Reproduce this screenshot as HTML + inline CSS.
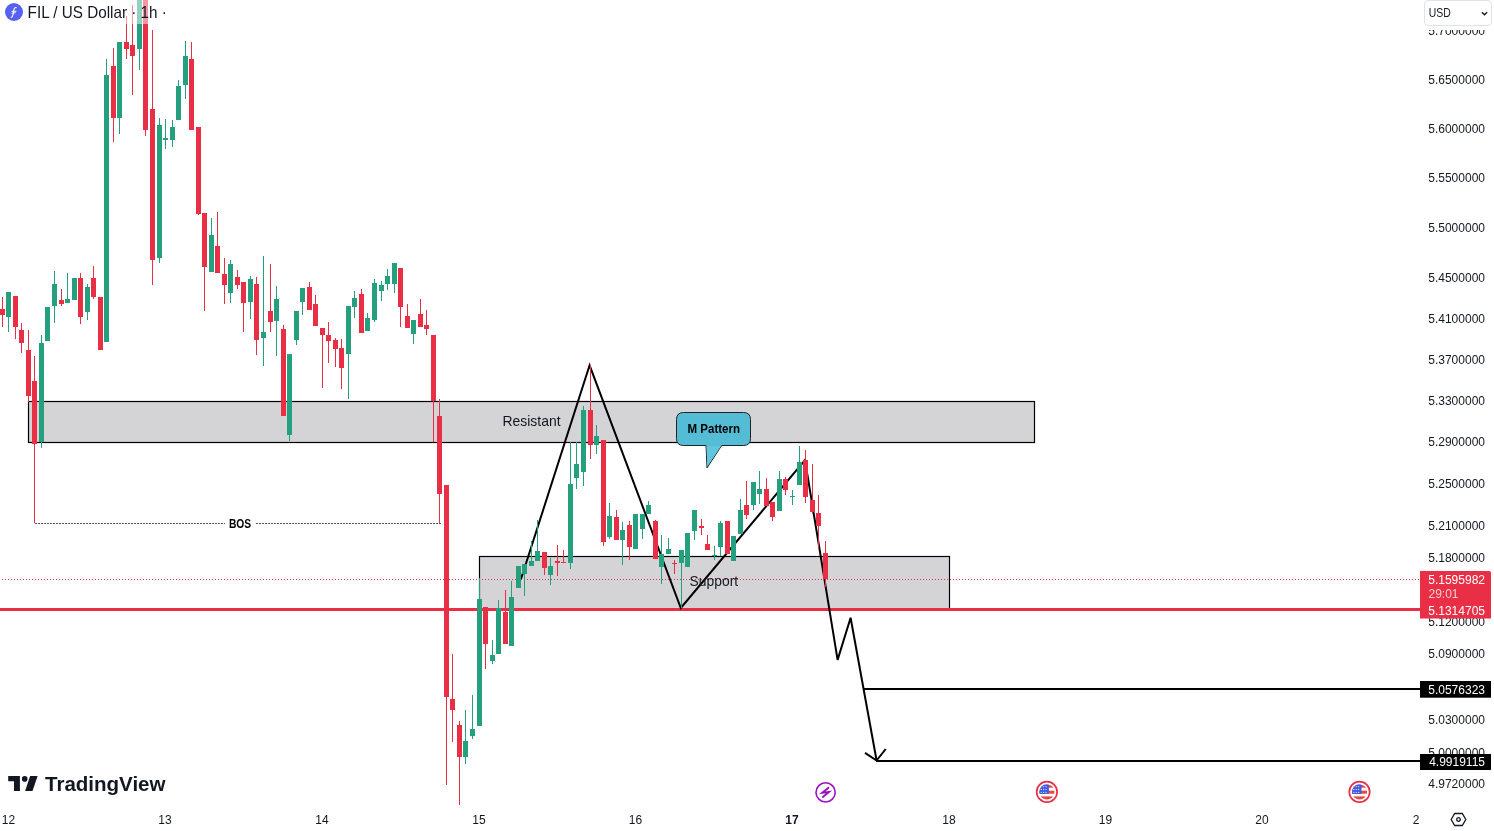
<!DOCTYPE html>
<html><head><meta charset="utf-8"><style>
html,body{margin:0;padding:0;background:#fff;width:1494px;height:831px;overflow:hidden}
svg{display:block;font-family:"Liberation Sans",sans-serif;will-change:transform}
#hdr{position:absolute;left:0;top:0;height:24px;width:172px;background:rgba(255,255,255,0.5)}
#title{position:absolute;left:26.2px;top:2.8px;font:15.5px "Liberation Sans",sans-serif;color:#131722;white-space:nowrap;line-height:20px}
#ico{position:absolute;left:5px;top:3px;width:18px;height:18px;border-radius:50%;background:#5561F2;color:#fff;font:italic 12px "Liberation Serif",serif;text-align:center;line-height:18px}
#usdbg{position:absolute;left:1420px;top:0;width:74px;height:29.5px;background:#fff}
#usd{position:absolute;left:1424px;top:0px;width:67.5px;height:25.5px;box-sizing:border-box;border:1px solid #E0E3EB;border-radius:4px;background:#fff;font:12.5px "Liberation Sans",sans-serif;color:#131722}
#usd span{position:absolute;left:3.5px;top:5px}
</style></head><body>
<svg width="1494" height="831" viewBox="0 0 1494 831">
<rect x="28.5" y="401.5" width="1006" height="41" fill="#D4D4D7" stroke="#000" stroke-width="1.2"/>
<rect x="479.5" y="556.5" width="470" height="53" fill="#D4D4D7" stroke="#000" stroke-width="1.2"/>
<line x1="35" y1="523.5" x2="225" y2="523.5" stroke="#555" stroke-width="1" stroke-dasharray="2 1"/>
<line x1="256" y1="523.5" x2="442" y2="523.5" stroke="#555" stroke-width="1" stroke-dasharray="2 1"/>
<text x="228.9" y="527.8" font-size="12" font-weight="bold" fill="#000" textLength="22.3" lengthAdjust="spacingAndGlyphs">BOS</text>
<line x1="2" y1="579.5" x2="1420" y2="579.5" stroke="#E92F45" stroke-width="1" stroke-dasharray="1 2"/>
<rect x="0" y="608" width="1420" height="3" fill="#E92F45"/>
<rect x="864" y="688" width="556" height="2" fill="#000"/>
<rect x="876" y="760" width="544" height="2" fill="#000"/>
<polyline points="521,579 589.6,365.3 680.8,608 805,460 837.6,659.9 850.6,617.8 876.6,760.5" fill="none" stroke="#000" stroke-width="2" stroke-linejoin="miter"/>
<polyline points="865,752.8 876.6,760.5 885.7,749" fill="none" stroke="#000" stroke-width="2"/>
<text x="502.5" y="426" font-size="14.8" fill="#131722" textLength="58" lengthAdjust="spacingAndGlyphs">Resistant</text>
<text x="689.6" y="586" font-size="14.8" fill="#131722" textLength="48.5" lengthAdjust="spacingAndGlyphs">Support</text>
<path d="M683.5,412.5 H743.5 Q750.5,412.5 750.5,419.5 V438.5 Q750.5,445.5 743.5,445.5 H721.7 L707,467.9 L706,445.5 H683.5 Q676.5,445.5 676.5,438.5 V419.5 Q676.5,412.5 683.5,412.5 Z" fill="#55BCD6" stroke="#222" stroke-width="1"/>
<path d="M706.6,445.9 L707.2,466.4 L721,445.9 Z" fill="#60C6DE"/>
<text x="687.5" y="433" font-size="12" font-weight="bold" fill="#000" textLength="52.5" lengthAdjust="spacingAndGlyphs">M Pattern</text>
<g shape-rendering="crispEdges"><rect x="2" y="297.3" width="1" height="30.1" fill="#E92F45"/><rect x="0" y="309.3" width="5" height="5.6" fill="#E92F45"/><rect x="8" y="292.0" width="1" height="40.0" fill="#24A07E"/><rect x="6" y="292.0" width="5" height="24.6" fill="#24A07E"/><rect x="15" y="296.0" width="1" height="43.4" fill="#E92F45"/><rect x="13" y="296.0" width="5" height="30.7" fill="#E92F45"/><rect x="21" y="323.0" width="1" height="30.4" fill="#E92F45"/><rect x="19" y="329.8" width="5" height="12.7" fill="#E92F45"/><rect x="28" y="330.0" width="1" height="72.0" fill="#E92F45"/><rect x="26" y="350.0" width="5" height="45.5" fill="#E92F45"/><rect x="34" y="356.0" width="1" height="167.0" fill="#E92F45"/><rect x="32" y="381.0" width="5" height="62.6" fill="#E92F45"/><rect x="41" y="335.0" width="1" height="112.7" fill="#24A07E"/><rect x="39" y="343.0" width="5" height="99.0" fill="#24A07E"/><rect x="47" y="307.0" width="1" height="33.6" fill="#24A07E"/><rect x="45" y="307.0" width="5" height="33.6" fill="#24A07E"/><rect x="54" y="270.8" width="1" height="51.8" fill="#24A07E"/><rect x="52" y="284.0" width="5" height="22.4" fill="#24A07E"/><rect x="61" y="288.9" width="1" height="16.8" fill="#E92F45"/><rect x="59" y="300.4" width="5" height="3.4" fill="#E92F45"/><rect x="67" y="273.0" width="1" height="29.6" fill="#24A07E"/><rect x="65" y="299.0" width="5" height="3.6" fill="#24A07E"/><rect x="74" y="278.0" width="1" height="22.4" fill="#24A07E"/><rect x="72" y="278.0" width="5" height="22.4" fill="#24A07E"/><rect x="80" y="273.0" width="1" height="50.8" fill="#E92F45"/><rect x="78" y="278.0" width="5" height="39.3" fill="#E92F45"/><rect x="87" y="284.0" width="1" height="35.7" fill="#24A07E"/><rect x="85" y="287.0" width="5" height="24.7" fill="#24A07E"/><rect x="93" y="266.0" width="1" height="32.5" fill="#E92F45"/><rect x="91" y="278.0" width="5" height="18.8" fill="#E92F45"/><rect x="100" y="297.0" width="1" height="52.6" fill="#E92F45"/><rect x="98" y="297.0" width="5" height="52.6" fill="#E92F45"/><rect x="106" y="59.0" width="1" height="283.3" fill="#24A07E"/><rect x="104" y="75.0" width="5" height="267.3" fill="#24A07E"/><rect x="113" y="48.0" width="1" height="93.5" fill="#E92F45"/><rect x="111" y="66.2" width="5" height="52.2" fill="#E92F45"/><rect x="119" y="42.0" width="1" height="91.6" fill="#24A07E"/><rect x="117" y="42.0" width="5" height="76.4" fill="#24A07E"/><rect x="126" y="16.4" width="1" height="42.1" fill="#E92F45"/><rect x="124" y="42.0" width="5" height="6.6" fill="#E92F45"/><rect x="132" y="4.8" width="1" height="89.8" fill="#E92F45"/><rect x="130" y="45.0" width="5" height="10.8" fill="#E92F45"/><rect x="139" y="0.0" width="1" height="69.8" fill="#24A07E"/><rect x="137" y="0.0" width="5" height="48.6" fill="#24A07E"/><rect x="145" y="0.0" width="1" height="135.5" fill="#E92F45"/><rect x="143" y="0.0" width="5" height="130.0" fill="#E92F45"/><rect x="152" y="30.0" width="1" height="254.6" fill="#E92F45"/><rect x="150" y="109.0" width="5" height="150.8" fill="#E92F45"/><rect x="159" y="118.0" width="1" height="144.7" fill="#24A07E"/><rect x="157" y="124.7" width="5" height="133.2" fill="#24A07E"/><rect x="165" y="119.0" width="1" height="30.0" fill="#24A07E"/><rect x="163" y="138.0" width="5" height="1.6" fill="#24A07E"/><rect x="172" y="120.0" width="1" height="27.0" fill="#24A07E"/><rect x="170" y="127.0" width="5" height="12.6" fill="#24A07E"/><rect x="178" y="80.0" width="1" height="39.6" fill="#24A07E"/><rect x="176" y="86.0" width="5" height="33.6" fill="#24A07E"/><rect x="185" y="41.0" width="1" height="57.7" fill="#24A07E"/><rect x="183" y="56.0" width="5" height="28.7" fill="#24A07E"/><rect x="191" y="42.0" width="1" height="87.5" fill="#E92F45"/><rect x="189" y="59.3" width="5" height="70.2" fill="#E92F45"/><rect x="198" y="127.0" width="1" height="88.0" fill="#E92F45"/><rect x="196" y="127.0" width="5" height="86.8" fill="#E92F45"/><rect x="204" y="213.2" width="1" height="98.2" fill="#E92F45"/><rect x="202" y="213.2" width="5" height="54.2" fill="#E92F45"/><rect x="211" y="218.0" width="1" height="53.5" fill="#24A07E"/><rect x="209" y="235.4" width="5" height="36.1" fill="#24A07E"/><rect x="217" y="212.0" width="1" height="61.4" fill="#E92F45"/><rect x="215" y="246.2" width="5" height="27.2" fill="#E92F45"/><rect x="224" y="257.8" width="1" height="45.7" fill="#E92F45"/><rect x="222" y="274.0" width="5" height="11.4" fill="#E92F45"/><rect x="230" y="260.0" width="1" height="42.8" fill="#24A07E"/><rect x="228" y="263.8" width="5" height="28.9" fill="#24A07E"/><rect x="237" y="269.8" width="1" height="18.8" fill="#E92F45"/><rect x="235" y="277.0" width="5" height="8.4" fill="#E92F45"/><rect x="243" y="282.3" width="1" height="50.1" fill="#E92F45"/><rect x="241" y="282.3" width="5" height="20.5" fill="#E92F45"/><rect x="250" y="275.8" width="1" height="42.9" fill="#24A07E"/><rect x="248" y="279.0" width="5" height="22.6" fill="#24A07E"/><rect x="256" y="277.0" width="1" height="77.5" fill="#E92F45"/><rect x="254" y="283.8" width="5" height="55.8" fill="#E92F45"/><rect x="263" y="256.0" width="1" height="109.6" fill="#24A07E"/><rect x="261" y="332.0" width="5" height="5.7" fill="#24A07E"/><rect x="270" y="263.8" width="1" height="68.6" fill="#E92F45"/><rect x="268" y="311.2" width="5" height="10.3" fill="#E92F45"/><rect x="276" y="286.0" width="1" height="69.7" fill="#24A07E"/><rect x="274" y="298.7" width="5" height="22.1" fill="#24A07E"/><rect x="283" y="325.0" width="1" height="90.6" fill="#E92F45"/><rect x="281" y="329.0" width="5" height="86.6" fill="#E92F45"/><rect x="289" y="354.0" width="1" height="86.9" fill="#24A07E"/><rect x="287" y="354.0" width="5" height="80.8" fill="#24A07E"/><rect x="296" y="310.9" width="1" height="33.7" fill="#24A07E"/><rect x="294" y="310.9" width="5" height="28.6" fill="#24A07E"/><rect x="302" y="288.0" width="1" height="26.5" fill="#24A07E"/><rect x="300" y="288.0" width="5" height="13.7" fill="#24A07E"/><rect x="309" y="281.8" width="1" height="27.9" fill="#E92F45"/><rect x="307" y="287.3" width="5" height="22.4" fill="#E92F45"/><rect x="315" y="295.0" width="1" height="31.3" fill="#E92F45"/><rect x="313" y="304.0" width="5" height="22.3" fill="#E92F45"/><rect x="322" y="327.7" width="1" height="60.3" fill="#E92F45"/><rect x="320" y="327.7" width="5" height="7.0" fill="#E92F45"/><rect x="328" y="321.7" width="1" height="40.9" fill="#E92F45"/><rect x="326" y="334.7" width="5" height="6.0" fill="#E92F45"/><rect x="335" y="337.8" width="1" height="28.9" fill="#E92F45"/><rect x="333" y="339.8" width="5" height="9.6" fill="#E92F45"/><rect x="341" y="339.0" width="1" height="49.9" fill="#E92F45"/><rect x="339" y="348.0" width="5" height="20.0" fill="#E92F45"/><rect x="348" y="306.0" width="1" height="92.7" fill="#24A07E"/><rect x="346" y="306.0" width="5" height="47.5" fill="#24A07E"/><rect x="354" y="291.0" width="1" height="26.9" fill="#24A07E"/><rect x="352" y="297.7" width="5" height="9.3" fill="#24A07E"/><rect x="361" y="289.0" width="1" height="43.6" fill="#E92F45"/><rect x="359" y="293.8" width="5" height="38.8" fill="#E92F45"/><rect x="367" y="313.0" width="1" height="17.6" fill="#24A07E"/><rect x="365" y="317.9" width="5" height="12.7" fill="#24A07E"/><rect x="374" y="278.9" width="1" height="42.8" fill="#24A07E"/><rect x="372" y="283.0" width="5" height="37.3" fill="#24A07E"/><rect x="381" y="280.8" width="1" height="19.7" fill="#24A07E"/><rect x="379" y="285.4" width="5" height="6.0" fill="#24A07E"/><rect x="387" y="269.3" width="1" height="21.1" fill="#24A07E"/><rect x="385" y="276.0" width="5" height="8.4" fill="#24A07E"/><rect x="394" y="263.2" width="1" height="29.6" fill="#24A07E"/><rect x="392" y="263.2" width="5" height="21.2" fill="#24A07E"/><rect x="400" y="268.0" width="1" height="59.0" fill="#E92F45"/><rect x="398" y="268.0" width="5" height="38.6" fill="#E92F45"/><rect x="407" y="304.2" width="1" height="23.3" fill="#E92F45"/><rect x="405" y="316.2" width="5" height="11.3" fill="#E92F45"/><rect x="413" y="320.3" width="1" height="23.6" fill="#24A07E"/><rect x="411" y="320.3" width="5" height="13.2" fill="#24A07E"/><rect x="420" y="299.3" width="1" height="27.7" fill="#E92F45"/><rect x="418" y="314.3" width="5" height="12.7" fill="#E92F45"/><rect x="426" y="310.2" width="1" height="24.5" fill="#E92F45"/><rect x="424" y="325.3" width="5" height="4.1" fill="#E92F45"/><rect x="433" y="335.0" width="1" height="107.0" fill="#E92F45"/><rect x="431" y="335.0" width="5" height="66.1" fill="#E92F45"/><rect x="439" y="399.0" width="1" height="124.2" fill="#E92F45"/><rect x="437" y="416.0" width="5" height="78.3" fill="#E92F45"/><rect x="446" y="484.7" width="1" height="299.8" fill="#E92F45"/><rect x="444" y="484.7" width="5" height="212.6" fill="#E92F45"/><rect x="452" y="653.8" width="1" height="87.7" fill="#E92F45"/><rect x="450" y="699.0" width="5" height="11.0" fill="#E92F45"/><rect x="459" y="721.3" width="1" height="83.4" fill="#E92F45"/><rect x="457" y="725.0" width="5" height="31.7" fill="#E92F45"/><rect x="465" y="710.0" width="1" height="53.8" fill="#24A07E"/><rect x="463" y="741.0" width="5" height="15.7" fill="#24A07E"/><rect x="472" y="694.8" width="1" height="43.7" fill="#24A07E"/><rect x="470" y="729.0" width="5" height="7.0" fill="#24A07E"/><rect x="479" y="577.6" width="1" height="148.0" fill="#24A07E"/><rect x="477" y="599.0" width="5" height="126.6" fill="#24A07E"/><rect x="485" y="607.4" width="1" height="61.3" fill="#E92F45"/><rect x="483" y="607.4" width="5" height="36.6" fill="#E92F45"/><rect x="492" y="639.7" width="1" height="24.7" fill="#24A07E"/><rect x="490" y="654.8" width="5" height="6.6" fill="#24A07E"/><rect x="498" y="599.8" width="1" height="54.5" fill="#24A07E"/><rect x="496" y="608.3" width="5" height="46.0" fill="#24A07E"/><rect x="505" y="590.0" width="1" height="54.0" fill="#E92F45"/><rect x="503" y="612.0" width="5" height="32.0" fill="#E92F45"/><rect x="511" y="581.2" width="1" height="64.6" fill="#24A07E"/><rect x="509" y="597.0" width="5" height="48.8" fill="#24A07E"/><rect x="518" y="566.2" width="1" height="21.8" fill="#24A07E"/><rect x="516" y="566.2" width="5" height="21.8" fill="#24A07E"/><rect x="524" y="564.0" width="1" height="31.7" fill="#24A07E"/><rect x="522" y="564.0" width="5" height="9.6" fill="#24A07E"/><rect x="531" y="540.6" width="1" height="25.3" fill="#24A07E"/><rect x="529" y="561.0" width="5" height="4.9" fill="#24A07E"/><rect x="537" y="519.9" width="1" height="40.9" fill="#24A07E"/><rect x="535" y="551.0" width="5" height="9.8" fill="#24A07E"/><rect x="544" y="551.8" width="1" height="22.7" fill="#E92F45"/><rect x="542" y="551.8" width="5" height="15.9" fill="#E92F45"/><rect x="550" y="558.0" width="1" height="26.8" fill="#24A07E"/><rect x="548" y="566.2" width="5" height="8.3" fill="#24A07E"/><rect x="557" y="544.8" width="1" height="31.0" fill="#E92F45"/><rect x="555" y="561.4" width="5" height="1.2" fill="#E92F45"/><rect x="563" y="550.0" width="1" height="13.2" fill="#E92F45"/><rect x="561" y="562.0" width="5" height="1.0" fill="#E92F45"/><rect x="570" y="441.8" width="1" height="127.2" fill="#24A07E"/><rect x="568" y="484.0" width="5" height="78.8" fill="#24A07E"/><rect x="576" y="441.8" width="1" height="47.0" fill="#24A07E"/><rect x="574" y="464.0" width="5" height="14.0" fill="#24A07E"/><rect x="583" y="406.0" width="1" height="80.4" fill="#24A07E"/><rect x="581" y="409.8" width="5" height="62.2" fill="#24A07E"/><rect x="590" y="365.3" width="1" height="93.4" fill="#E92F45"/><rect x="588" y="409.8" width="5" height="34.9" fill="#E92F45"/><rect x="596" y="425.0" width="1" height="28.9" fill="#24A07E"/><rect x="594" y="436.3" width="5" height="8.4" fill="#24A07E"/><rect x="603" y="440.0" width="1" height="105.8" fill="#E92F45"/><rect x="601" y="440.0" width="5" height="101.7" fill="#E92F45"/><rect x="609" y="503.3" width="1" height="35.5" fill="#24A07E"/><rect x="607" y="516.0" width="5" height="20.8" fill="#24A07E"/><rect x="616" y="510.0" width="1" height="29.5" fill="#E92F45"/><rect x="614" y="517.0" width="5" height="22.5" fill="#E92F45"/><rect x="622" y="522.0" width="1" height="42.8" fill="#24A07E"/><rect x="620" y="530.2" width="5" height="9.3" fill="#24A07E"/><rect x="629" y="521.0" width="1" height="38.6" fill="#E92F45"/><rect x="627" y="525.0" width="5" height="21.6" fill="#E92F45"/><rect x="635" y="514.0" width="1" height="34.6" fill="#24A07E"/><rect x="633" y="514.0" width="5" height="34.6" fill="#24A07E"/><rect x="642" y="514.0" width="1" height="24.8" fill="#24A07E"/><rect x="640" y="514.0" width="5" height="14.6" fill="#24A07E"/><rect x="648" y="501.0" width="1" height="13.4" fill="#24A07E"/><rect x="646" y="505.2" width="5" height="9.2" fill="#24A07E"/><rect x="655" y="520.0" width="1" height="38.6" fill="#E92F45"/><rect x="653" y="521.0" width="5" height="37.6" fill="#E92F45"/><rect x="661" y="534.7" width="1" height="48.9" fill="#24A07E"/><rect x="659" y="554.1" width="5" height="12.7" fill="#24A07E"/><rect x="668" y="538.1" width="1" height="15.5" fill="#24A07E"/><rect x="666" y="549.0" width="5" height="4.6" fill="#24A07E"/><rect x="674" y="560.0" width="1" height="13.5" fill="#E92F45"/><rect x="672" y="562.5" width="5" height="1.0" fill="#E92F45"/><rect x="681" y="550.2" width="1" height="57.8" fill="#24A07E"/><rect x="679" y="550.2" width="5" height="12.3" fill="#24A07E"/><rect x="687" y="533.4" width="1" height="33.4" fill="#24A07E"/><rect x="685" y="533.4" width="5" height="33.4" fill="#24A07E"/><rect x="694" y="510.3" width="1" height="29.5" fill="#24A07E"/><rect x="692" y="510.3" width="5" height="21.1" fill="#24A07E"/><rect x="701" y="519.0" width="1" height="15.8" fill="#E92F45"/><rect x="699" y="526.3" width="5" height="2.0" fill="#E92F45"/><rect x="707" y="535.3" width="1" height="14.3" fill="#E92F45"/><rect x="705" y="544.0" width="5" height="5.6" fill="#E92F45"/><rect x="714" y="546.0" width="1" height="13.5" fill="#24A07E"/><rect x="712" y="555.3" width="5" height="1.0" fill="#24A07E"/><rect x="720" y="521.3" width="1" height="34.5" fill="#24A07E"/><rect x="718" y="523.0" width="5" height="23.5" fill="#24A07E"/><rect x="727" y="521.0" width="1" height="32.6" fill="#E92F45"/><rect x="725" y="521.0" width="5" height="32.6" fill="#E92F45"/><rect x="733" y="536.1" width="1" height="24.4" fill="#24A07E"/><rect x="731" y="536.1" width="5" height="24.4" fill="#24A07E"/><rect x="740" y="499.4" width="1" height="34.2" fill="#24A07E"/><rect x="738" y="510.3" width="5" height="23.3" fill="#24A07E"/><rect x="746" y="481.0" width="1" height="37.6" fill="#E92F45"/><rect x="744" y="505.0" width="5" height="10.0" fill="#E92F45"/><rect x="753" y="482.0" width="1" height="27.7" fill="#24A07E"/><rect x="751" y="482.0" width="5" height="22.5" fill="#24A07E"/><rect x="759" y="470.8" width="1" height="32.7" fill="#24A07E"/><rect x="757" y="489.0" width="5" height="5.0" fill="#24A07E"/><rect x="766" y="478.0" width="1" height="27.5" fill="#E92F45"/><rect x="764" y="489.0" width="5" height="16.5" fill="#E92F45"/><rect x="772" y="502.0" width="1" height="18.5" fill="#E92F45"/><rect x="770" y="502.0" width="5" height="14.6" fill="#E92F45"/><rect x="779" y="470.8" width="1" height="39.9" fill="#24A07E"/><rect x="777" y="479.0" width="5" height="31.7" fill="#24A07E"/><rect x="785" y="477.0" width="1" height="18.4" fill="#E92F45"/><rect x="783" y="479.0" width="5" height="11.4" fill="#E92F45"/><rect x="792" y="490.0" width="1" height="14.5" fill="#24A07E"/><rect x="790" y="496.2" width="5" height="1.0" fill="#24A07E"/><rect x="799" y="446.2" width="1" height="38.5" fill="#24A07E"/><rect x="797" y="462.1" width="5" height="22.6" fill="#24A07E"/><rect x="805" y="449.6" width="1" height="53.0" fill="#E92F45"/><rect x="803" y="459.8" width="5" height="37.6" fill="#E92F45"/><rect x="812" y="464.0" width="1" height="50.0" fill="#E92F45"/><rect x="810" y="500.0" width="5" height="11.6" fill="#E92F45"/><rect x="818" y="494.9" width="1" height="53.9" fill="#E92F45"/><rect x="816" y="513.2" width="5" height="12.5" fill="#E92F45"/><rect x="825" y="541.0" width="1" height="46.3" fill="#E92F45"/><rect x="823" y="553.2" width="5" height="25.8" fill="#E92F45"/></g>
<text x="1485" y="35.1" font-size="12" text-anchor="end" fill="#131722">5.7000000</text>
<text x="1485" y="83.6" font-size="12" text-anchor="end" fill="#131722">5.6500000</text>
<text x="1485" y="132.6" font-size="12" text-anchor="end" fill="#131722">5.6000000</text>
<text x="1485" y="182.0" font-size="12" text-anchor="end" fill="#131722">5.5500000</text>
<text x="1485" y="231.8" font-size="12" text-anchor="end" fill="#131722">5.5000000</text>
<text x="1485" y="282.1" font-size="12" text-anchor="end" fill="#131722">5.4500000</text>
<text x="1485" y="322.7" font-size="12" text-anchor="end" fill="#131722">5.4100000</text>
<text x="1485" y="363.5" font-size="12" text-anchor="end" fill="#131722">5.3700000</text>
<text x="1485" y="404.7" font-size="12" text-anchor="end" fill="#131722">5.3300000</text>
<text x="1485" y="446.2" font-size="12" text-anchor="end" fill="#131722">5.2900000</text>
<text x="1485" y="488.0" font-size="12" text-anchor="end" fill="#131722">5.2500000</text>
<text x="1485" y="530.1" font-size="12" text-anchor="end" fill="#131722">5.2100000</text>
<text x="1485" y="561.9" font-size="12" text-anchor="end" fill="#131722">5.1800000</text>
<text x="1485" y="626.1" font-size="12" text-anchor="end" fill="#131722">5.1200000</text>
<text x="1485" y="658.4" font-size="12" text-anchor="end" fill="#131722">5.0900000</text>
<text x="1485" y="723.7" font-size="12" text-anchor="end" fill="#131722">5.0300000</text>
<text x="1485" y="756.7" font-size="12" text-anchor="end" fill="#131722">5.0000000</text>
<text x="1485" y="787.6" font-size="12" text-anchor="end" fill="#131722">4.9720000</text>
<path d="M1420,571 H1489 Q1491,571 1491,573 V618.6 H1420 Z" fill="#E92F45"/>
<text x="1485" y="583.6" font-size="12" text-anchor="end" fill="#fff">5.1595982</text>
<text x="1428.5" y="597.7" font-size="12" fill="#fff" fill-opacity="0.75">29:01</text>
<text x="1485" y="615" font-size="12" text-anchor="end" fill="#fff">5.1314705</text>
<rect x="1420" y="681" width="71" height="16.7" fill="#000"/>
<text x="1485" y="693.5" font-size="12" text-anchor="end" fill="#fff">5.0576323</text>
<rect x="1420" y="754" width="71" height="16" fill="#000"/>
<text x="1485" y="766" font-size="12" text-anchor="end" fill="#fff">4.9919115</text>
<text x="8.4" y="824" font-size="12" text-anchor="middle" fill="#131722">12</text>
<text x="165" y="824" font-size="12" text-anchor="middle" fill="#131722">13</text>
<text x="322" y="824" font-size="12" text-anchor="middle" fill="#131722">14</text>
<text x="479" y="824" font-size="12" text-anchor="middle" fill="#131722">15</text>
<text x="635.5" y="824" font-size="12" text-anchor="middle" fill="#131722">16</text>
<text x="792" y="824" font-size="12" text-anchor="middle" fill="#131722" font-weight="bold">17</text>
<text x="949" y="824" font-size="12" text-anchor="middle" fill="#131722">18</text>
<text x="1105.5" y="824" font-size="12" text-anchor="middle" fill="#131722">19</text>
<text x="1262" y="824" font-size="12" text-anchor="middle" fill="#131722">20</text>
<text x="1416" y="824" font-size="12" text-anchor="middle" fill="#131722">2</text>
<g transform="translate(1458.5,819.5)" fill="none" stroke="#131722" stroke-width="1.3"><path d="M-7.3,0 L-3.8,-6 H3.8 L7.3,0 L3.8,6 H-3.8 Z"/><circle cx="0" cy="0" r="1.8"/></g>
<g transform="translate(825.6,792.4)"><circle r="9.6" fill="#fff" stroke="#9C0FC0" stroke-width="1.6"/><path d="M2.8,-4.6 L-3.4,0.5 L3.4,-0.5 L-2.8,4.6" fill="none" stroke="#9C0FC0" stroke-width="1.9" stroke-linecap="round" stroke-linejoin="miter"/></g>
<g transform="translate(1046.9,791.9)"><circle r="10.2" fill="#fff" stroke="#E92F45" stroke-width="1.7"/><clipPath id="fc1046"><circle r="7.6"/></clipPath><g clip-path="url(#fc1046)"><rect x="-8" y="-8" width="16" height="16" fill="#fff"/><rect x="-8" y="-6.8" width="16" height="2.6" fill="#E8483F"/><rect x="-8" y="-1.2" width="16" height="3" fill="#E8483F"/><rect x="-8" y="4.5" width="16" height="4" fill="#E8483F"/><rect x="-8" y="-8" width="10" height="10" fill="#3F5BE0"/><rect x="-6.2" y="-5.6" width="1.1" height="0.9" fill="#fff"/><rect x="-6.2" y="-2.8" width="1.1" height="0.9" fill="#fff"/><rect x="-6.2" y="0.0" width="1.1" height="0.9" fill="#fff"/><rect x="-3.8" y="-5.6" width="1.1" height="0.9" fill="#fff"/><rect x="-3.8" y="-2.8" width="1.1" height="0.9" fill="#fff"/><rect x="-3.8" y="0.0" width="1.1" height="0.9" fill="#fff"/><rect x="-1.4" y="-5.6" width="1.1" height="0.9" fill="#fff"/><rect x="-1.4" y="-2.8" width="1.1" height="0.9" fill="#fff"/><rect x="-1.4" y="0.0" width="1.1" height="0.9" fill="#fff"/></g></g>
<g transform="translate(1359.5,791.9)"><circle r="10.2" fill="#fff" stroke="#E92F45" stroke-width="1.7"/><clipPath id="fc1359"><circle r="7.6"/></clipPath><g clip-path="url(#fc1359)"><rect x="-8" y="-8" width="16" height="16" fill="#fff"/><rect x="-8" y="-6.8" width="16" height="2.6" fill="#E8483F"/><rect x="-8" y="-1.2" width="16" height="3" fill="#E8483F"/><rect x="-8" y="4.5" width="16" height="4" fill="#E8483F"/><rect x="-8" y="-8" width="10" height="10" fill="#3F5BE0"/><rect x="-6.2" y="-5.6" width="1.1" height="0.9" fill="#fff"/><rect x="-6.2" y="-2.8" width="1.1" height="0.9" fill="#fff"/><rect x="-6.2" y="0.0" width="1.1" height="0.9" fill="#fff"/><rect x="-3.8" y="-5.6" width="1.1" height="0.9" fill="#fff"/><rect x="-3.8" y="-2.8" width="1.1" height="0.9" fill="#fff"/><rect x="-3.8" y="0.0" width="1.1" height="0.9" fill="#fff"/><rect x="-1.4" y="-5.6" width="1.1" height="0.9" fill="#fff"/><rect x="-1.4" y="-2.8" width="1.1" height="0.9" fill="#fff"/><rect x="-1.4" y="0.0" width="1.1" height="0.9" fill="#fff"/></g></g>
<g fill="#131722"><path d="M8.2,776 H19.9 V791 H14 V781.3 H8.2 Z"/><circle cx="24.7" cy="778.9" r="2.8"/><path d="M30.1,776 H37.6 L32.5,791 H25.1 Z"/></g>
<text x="45" y="791" font-size="20" font-weight="bold" fill="#131722" textLength="120.5" lengthAdjust="spacingAndGlyphs">TradingView</text>
</svg>
<div id="hdr"></div>
<svg style="position:absolute;left:4.9px;top:2.8px" width="18" height="18" viewBox="0 0 18 18"><circle cx="9" cy="9" r="9" fill="#5561F2"/><path d="M11.6,4.6 C10.2,4.2 9.3,5 9,6.6 L7.6,13.2 C7.3,14.2 6.6,14.4 5.8,14" fill="none" stroke="#fff" stroke-width="1.1"/><path d="M6.4,8.3 L11.4,8.3 M6.6,10.3 L10.8,9.7" stroke="#fff" stroke-width="0.9"/></svg>
<svg style="position:absolute;left:0;top:0" width="180" height="26"><text x="27.6" y="17.8" font-size="16.2" fill="#131722" font-family="Liberation Sans" textLength="139.3" lengthAdjust="spacingAndGlyphs">FIL / US Dollar · 1h ·</text></svg>
<div id="usdbg"></div><div id="usd"><svg style="position:absolute;left:0;top:0" width="66" height="24"><text x="3.8" y="16" font-size="12.5" fill="#131722" textLength="22" lengthAdjust="spacingAndGlyphs" font-family="Liberation Sans">USD</text><path d="M56.9,11.3 L59.5,13.7 L62.1,11.3" fill="none" stroke="#131722" stroke-width="1.4"/></svg></div>
</body></html>
